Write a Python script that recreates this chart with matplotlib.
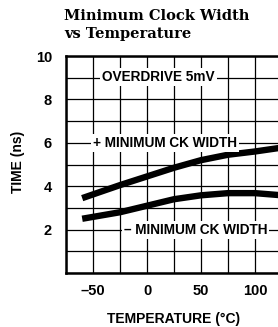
import matplotlib.pyplot as plt
import numpy as np

# datos
temp = [-60, -25, 0, 25, 50, 75, 100, 125]
ck_plus = [3.45, 4.05, 4.45, 4.85, 5.2, 5.45, 5.6, 5.78]
ck_minus = [2.5, 2.8, 3.1, 3.4, 3.58, 3.68, 3.68, 3.58]
x_ticks = [-50, 0, 50, 100]
y_ticks = [2, 4, 6, 8, 10]

fig = plt.figure(figsize=(2.78, 3.27), dpi=100)
ax = fig.add_axes([66 / 278, 54 / 327, 216 / 278, 217 / 327])

# rejilla
for xv in np.arange(-75, 126, 25):
    ax.axvline(xv, color='black', lw=0.9, zorder=1)
for yv in range(0, 11):
    ax.axhline(yv, color='black', lw=0.9, zorder=1)

ax.plot(temp, ck_plus, color='black', lw=4.6, solid_capstyle='butt', zorder=3)
ax.plot(temp, ck_minus, color='black', lw=4.6, solid_capstyle='butt', zorder=3)

lbl = dict(fontsize=9.8, fontweight='bold', family='Liberation Sans', va='center', ha='center',
           bbox=dict(facecolor='white', edgecolor='none', pad=1.5), zorder=4)
ax.text(10.5, 9.05, 'OVERDRIVE 5mV', **lbl)
ax.text(17, 6.0, '+ MINIMUM CK WIDTH', **lbl)
ax.text(45, 2.0, '– MINIMUM CK WIDTH', **lbl)

ax.set_xlim(-75, 125)
ax.set_ylim(0, 10)
ax.set_xticks(x_ticks)
ax.set_xticklabels(['–50', '0', '50', '100'])
ax.set_yticks(y_ticks)
ax.tick_params(length=0, labelsize=10.5)
ax.tick_params(axis='y', pad=10)
ax.tick_params(axis='x', pad=8)
for t in ax.get_xticklabels() + ax.get_yticklabels():
    t.set_fontweight('bold')
    t.set_family('Liberation Sans')
for s in ax.spines.values():
    s.set_linewidth(1.8)

ax.set_xlabel('TEMPERATURE (°C)', fontsize=10, fontweight='bold', family='Liberation Sans', labelpad=10)
fig.text(18 / 278, 1 - 162 / 327, 'TIME (ns)', rotation=90, fontsize=10, fontweight='bold',
         family='Liberation Sans', ha='center', va='center')

fig.text(64 / 278, 1 - 16 / 327, 'Minimum Clock Width', fontsize=10.5, fontweight='bold',
         family='DejaVu Serif', ha='left', va='center')
fig.text(64 / 278, 1 - 34 / 327, 'vs Temperature', fontsize=10.5, fontweight='bold',
         family='DejaVu Serif', ha='left', va='center')

plt.savefig('out.png', dpi=100)
